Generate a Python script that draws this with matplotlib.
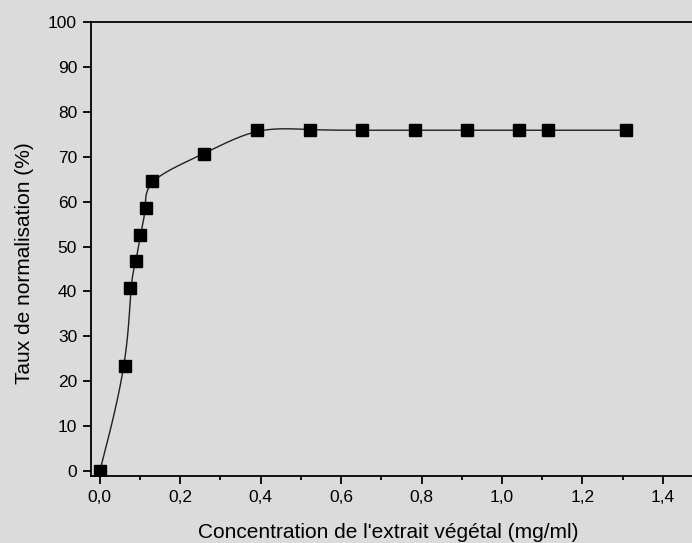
import numpy as np
import matplotlib.pyplot as plt
from matplotlib.ticker import MultipleLocator, FuncFormatter

# data
conc = [0.0, 0.062, 0.076, 0.090, 0.101, 0.116, 0.129, 0.260, 0.391,
        0.522, 0.652, 0.784, 0.913, 1.042, 1.114, 1.308]
taux = [0.0, 23.4, 40.7, 46.7, 52.6, 58.6, 64.7, 70.5, 75.9,
        75.9, 75.9, 75.9, 75.9, 75.9, 75.9, 75.9]


def bspline_line(x, y, n=40):
    # cubic B-spline, control points nudged once so the curve runs close to the points
    p = np.column_stack([x, y]).astype(float)
    e = np.zeros_like(p)
    e[1:-1] = p[1:-1] - (p[:-2] + 4 * p[1:-1] + p[2:]) / 6
    q = p + e
    q = np.vstack([q[:1], q[:1], q, q[-1:], q[-1:]])
    t = np.linspace(0, 1, n, endpoint=False)[:, None]
    b0 = (1 - t) ** 3 / 6
    b1 = (3 * t**3 - 6 * t**2 + 4) / 6
    b2 = (-3 * t**3 + 3 * t**2 + 3 * t + 1) / 6
    b3 = t**3 / 6
    out = [b0 * q[i] + b1 * q[i + 1] + b2 * q[i + 2] + b3 * q[i + 3]
           for i in range(len(q) - 3)]
    c = np.vstack(out + [p[-1:]])
    return c[:, 0], c[:, 1]


plt.rcParams['font.family'] = ['Liberation Sans', 'DejaVu Sans']
bg = '#dbdbdb'

fig = plt.figure(figsize=(6.92, 5.43), dpi=100, facecolor=bg)
ax = fig.add_axes([91 / 692, 1 - 476 / 543, 612 / 692, 454 / 543])
ax.set_facecolor(bg)

lx, ly = bspline_line(conc, taux)
ax.plot(lx, ly, color='#202020', lw=1.0)
ax.plot(conc, taux, 's', color='black', markersize=8)

ax.set_xlim(-0.022, 1.5)
ax.set_ylim(-1.1, 100)
ax.xaxis.set_major_locator(MultipleLocator(0.2))
ax.xaxis.set_minor_locator(MultipleLocator(0.1))
ax.yaxis.set_major_locator(MultipleLocator(10))
ax.xaxis.set_major_formatter(FuncFormatter(lambda v, p: f"{v:.1f}".replace('.', ',')))

for s in ax.spines.values():
    s.set_linewidth(1.3)
ax.tick_params(axis='both', which='major', direction='out', length=6,
               width=1.3, labelsize=12.5, colors='black', pad=4)
ax.tick_params(axis='x', which='minor', direction='out', length=3, width=1.3)

fig.text(388 / 692, 1 - 532 / 543, "Concentration de l'extrait végétal (mg/ml)",
         fontsize=15, ha='center', va='center')
fig.text(25 / 692, 1 - 263 / 543, "Taux de normalisation (%)",
         fontsize=15, ha='center', va='center', rotation=90)

fig.savefig("out.png", dpi=100, facecolor=bg)
